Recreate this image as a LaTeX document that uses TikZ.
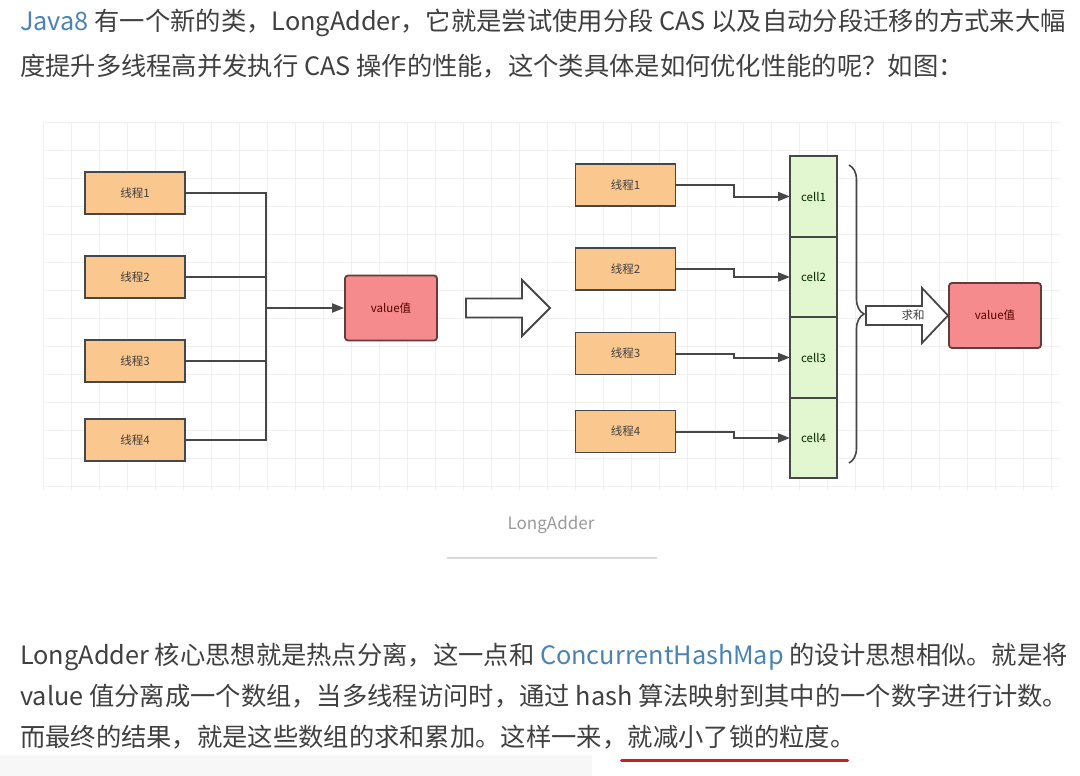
\documentclass[tikz,border=0pt]{standalone}
\usepackage{fontspec}
\setmainfont{Noto Sans CJK SC}
\usepackage{tikz}
\usetikzlibrary{arrows.meta,positioning,calc,decorations.pathreplacing}
\definecolor{ink}{HTML}{404040}
\definecolor{link}{HTML}{4A84B6}
\definecolor{peach}{HTML}{FAC78E}
\definecolor{rose}{HTML}{F58B8C}
\definecolor{mint}{HTML}{E2F7CF}
\definecolor{edge}{HTML}{474747}
\definecolor{gridc}{HTML}{F0F0F0}
\definecolor{capg}{HTML}{9A9A9A}
\definecolor{redline}{HTML}{C02026}

\begin{document}
\begin{tikzpicture}[x=1pt,y=-1pt,font=\fontsize{25.3}{30}\selectfont,
   txt/.style={anchor=base west,inner sep=0pt,text=ink},
   th/.style={draw=edge,fill=peach,line width=1.8pt,minimum width=100pt,minimum height=42pt,inner sep=0pt,font=\fontsize{11.5}{13}\selectfont,text=ink},
   val/.style={draw=edge!85!red,fill=rose,rounded corners=3pt,line width=1.8pt,minimum width=92pt,minimum height=65pt,inner sep=0pt,font=\fontsize{11.5}{13}\selectfont,text=red!35!black},
   cellbox/.style={draw=edge,fill=mint,line width=1.8pt,outer sep=0pt,minimum width=47pt,minimum height=80.5pt,inner sep=0pt,font=\fontsize{11.5}{13}\selectfont,text=green!15!black},
   fl/.style={-{Triangle[length=12pt,width=9pt]},draw=edge,line width=2pt},
   bus/.style={draw=edge,line width=2pt},
   hollow/.style={draw=edge,fill=white,line width=1.8pt,line join=miter}]
  \useasboundingbox[fill=white] (0,0) rectangle (1080,776);
  % grid behind the diagram
  \foreach \gx in {43,71,...,1060} \draw[gridc,line width=1pt] (\gx,122) -- (\gx,490);
  \foreach \gy in {122,150,...,490} \draw[gridc,line width=1pt] (43,\gy) -- (1060,\gy);
  \fill[black!3] (0,755) rectangle (592,776);

  % text above
  \node[txt] (p1) at (20,31) {\textcolor{link}{Java8} 有一个新的类，LongAdder，它就是尝试使用分段 CAS 以及自动分段迁移的方式来大幅};
  \node[txt] (p2) at (20,76) {度提升多线程高并发执行 CAS 操作的性能，这个类具体是如何优化性能的呢？如图：};

  % before: one value
  \node[th] (t1) at (135,193) {线程1};
  \node[th] (t2) at (135,277) {线程2};
  \node[th] (t3) at (135,361) {线程3};
  \node[th] (t4) at (135,440) {线程4};
  \node[val] (v1) at (391,308) {value值};
  \coordinate (hub) at (266,308);
  \draw[bus] (t1.east) -| (hub); \draw[bus] (t4.east) -| (hub);
  \draw[bus] (t2.east) -- (t2.east -| hub); \draw[bus] (t3.east) -- (t3.east -| hub);
  \draw[fl] (hub) -- (v1.west);

  \draw[hollow] (466,298.5) -- (522,298.5) -- (522,280) -- (550,308) -- (522,336) -- (522,317.5) -- (466,317.5) -- cycle;

  % after: cells
  \node[th] (r1) at (625.5,185) {线程1};
  \node[th] (r2) at (625.5,269) {线程2};
  \node[th] (r3) at (625.5,353.5) {线程3};
  \node[th] (r4) at (625.5,431.5) {线程4};
  \node[cellbox] (c1) at (813.5,196.5) {cell1};
  \node[cellbox,below=0pt of c1] (c2) {cell2};
  \node[cellbox,below=0pt of c2] (c3) {cell3};
  \node[cellbox,below=0pt of c3] (c4) {cell4};
  \draw[fl] (r1.east) -- ++(58,0) |- (c1.west);
  \draw[fl] (r2.east) -- ++(58,0) |- (c2.west);
  \draw[fl] (r3.east) -- ++(58,0) |- (c3.west);
  \draw[fl] (r4.east) -- ++(58,0) |- (c4.west);
  \draw[edge,line width=1.6pt,decorate,decoration={brace,amplitude=15pt}] (849,165) -- (849,463);
  \node[val] (v2) at (995,315.5) {value值};
  \draw[hollow] (866,306) -- (922,306) -- (922,288) -- (948,315.5) -- (922,343) -- (922,325) -- (866,325) -- cycle;
  \node[font=\fontsize{11.5}{13}\selectfont,text=ink,inner sep=0pt] (sum) at (913,315.5) {求和};

  % caption
  \node[text=capg,font=\fontsize{17}{20}\selectfont,inner sep=0pt] (cap) at (551,525) {LongAdder};
  \draw[gridc!90!black,line width=1.5pt] (447,558) -- (657,558);

  % text below
  \node[txt] (q1) at (20,664) {LongAdder 核心思想就是热点分离，这一点和 \textcolor{link}{ConcurrentHashMap} 的设计思想相似。就是将};
  \node[txt] (q2) at (20,705) {value 值分离成一个数组，当多线程访问时，通过 hash 算法映射到其中的一个数字进行计数。};
  \node[txt] (q3) at (20,746) {而最终的结果，就是这些数组的求和累加。这样一来，};
  \node[txt,anchor=base west] (q4) at (q3.base east) {就减小了锁的粒度。};
  \draw[redline,line width=3pt,line cap=round] ([yshift=-14pt,xshift=-6pt]q4.base west) -- ([yshift=-14pt,xshift=-8pt]q4.base east);
\end{tikzpicture}
\end{document}
